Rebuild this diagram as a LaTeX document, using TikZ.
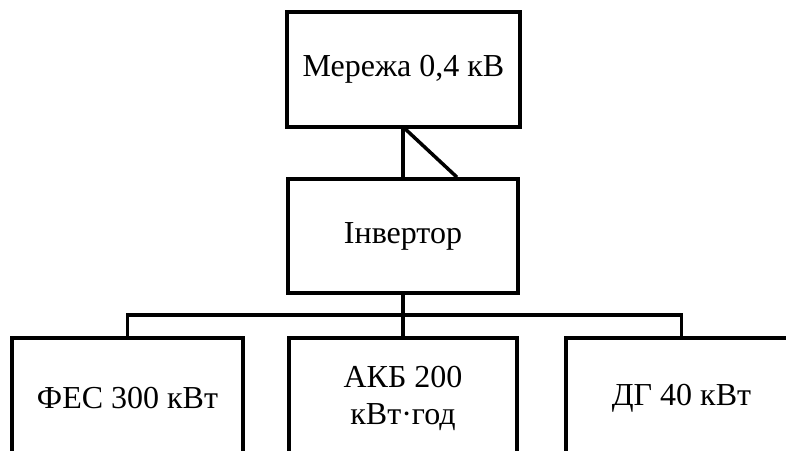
\documentclass[tikz,border=0pt]{standalone}
\usepackage{fontspec}
\setmainfont{Liberation Serif}
\usetikzlibrary{calc}
\begin{document}
\begin{tikzpicture}[x=1pt,y=-1pt,
  box/.style={draw,line width=3.5pt,line join=miter,inner sep=0pt,align=center,font=\fontsize{32}{37}\selectfont},
  wire/.style={line width=3.5pt}]
\useasboundingbox (0,0) rectangle (786,450);
\clip (0,0) rectangle (786,450);
\node[box,minimum width=233pt,minimum height=115pt] (net) at (403.5,69.5) {Мережа 0,4 кВ};
\node[box,minimum width=230pt,minimum height=114pt] (inv) at (403,236) {Інвертор};
\node[box,minimum width=231pt,minimum height=120pt] (fes) at (127.5,398) {ФЕС 300 кВт};
\node[box,minimum width=228pt,minimum height=120pt] (akb) at (403,398) {АКБ 200\\кВт·год};
\node[box,minimum width=231pt,minimum height=120pt] (dg) at (681.5,398) {ДГ 40 кВт};
\coordinate (bus) at (403,315);
\draw[wire] (net.south -| inv.north) -- (inv.north);
\draw[wire] ($(net.south)+(1.5,0)$) -- ($(inv.north)+(54,0)$);
\draw[wire] (inv.south) -- (akb.north);
\draw[wire] (fes.north) |- (bus) -| (dg.north);
\end{tikzpicture}
\end{document}
